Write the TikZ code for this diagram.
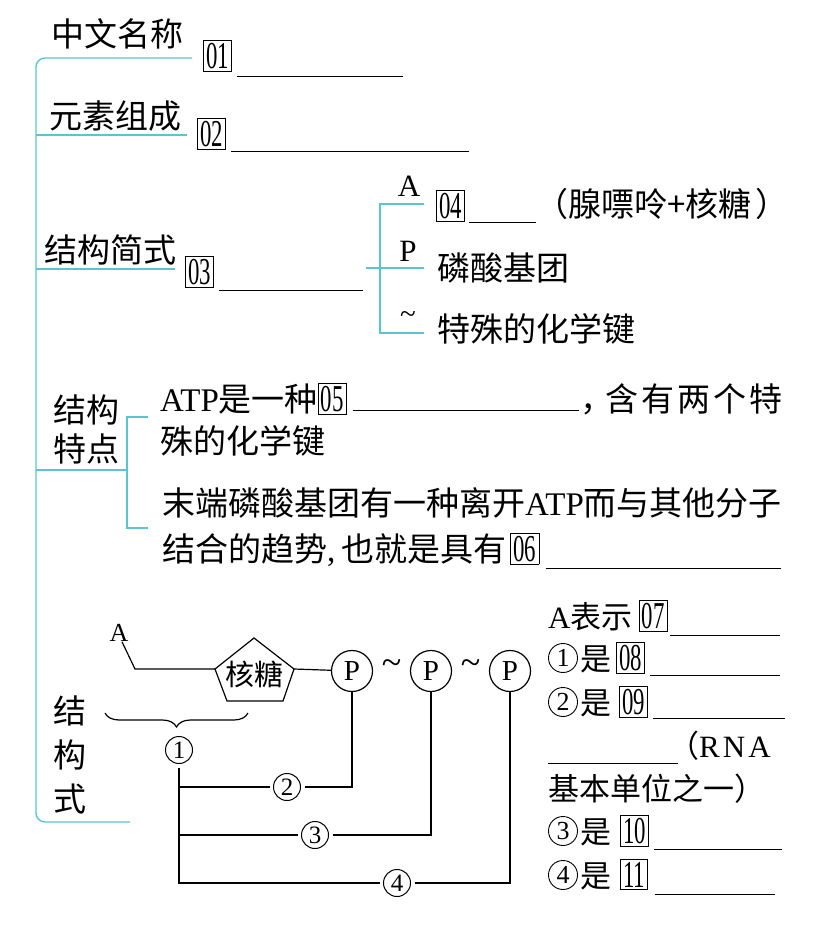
\documentclass[tikz,border=0pt]{standalone}
\usepackage{fontspec}
\setmainfont{Liberation Serif}
\newfontfamily\cjk{Noto Sans CJK SC}
\usetikzlibrary{positioning, shapes.geometric, decorations.pathreplacing, calc}

\definecolor{brcyan}{RGB}{92,196,208}

% boxed answer number
\newcommand{\nbox}[1]{{\setlength{\fboxsep}{2.2pt}\setlength{\fboxrule}{0.9pt}\fbox{\rmfamily\fontsize{38}{38}\selectfont\scalebox{0.6}[1]{#1}}}}

\begin{document}
\begin{tikzpicture}[x=1pt, y=-1pt,
        title/.style={font=\cjk\fontsize{33}{39}\selectfont, inner sep=0pt, align=center},
        body/.style={font=\cjk\fontsize{33}{40}\selectfont, inner sep=0pt, anchor=base west},
        side/.style={font=\cjk\fontsize{31}{38}\selectfont, inner sep=0pt, anchor=base west},
        latin/.style={font=\rmfamily\fontsize{29}{29}\selectfont, inner sep=0pt},
        numbox/.style={inner sep=0pt, anchor=north west},
        branch_line/.style={draw=brcyan, line width=1.4pt},
        blank_line/.style={draw, line width=1pt},
        bond_line/.style={draw, line width=1.2pt},
        phos/.style={circle, draw, line width=1.2pt, minimum size=41pt, inner sep=0pt, font=\rmfamily\fontsize{29}{29}\selectfont},
        circ_num/.style={circle, draw, line width=1pt, minimum size=27pt, inner sep=0pt, outer sep=4pt, font=\rmfamily\fontsize{25}{25}\selectfont}
    ]
        \useasboundingbox (0,0) rectangle (835,941);

        % Main spine
        \coordinate (sp_top) at (36,58);
        \coordinate (sp_bot) at (36,822);
        \draw[branch_line, rounded corners=9pt] (192,58) -- (sp_top) -- (sp_bot) -- (130,822);
        \draw[branch_line] (36,135) -- (187,135);
        \draw[branch_line] (36,269) -- (175,269);
        \draw[branch_line] (36,470) -- (127,470);

        % Name and elements
        \node[title, anchor=west] (zwmc) at (51,34) {中文名称};
        \node[numbox] (b01) at (203,40) {\nbox{01}};
        \draw[blank_line] ([shift={(5,4)}]b01.south east) -- ++(166,0);
        \node[title, anchor=west] (yszc) at (49,116) {元素组成};
        \node[numbox] (b02) at (197,118) {\nbox{02}};
        \draw[blank_line] ([shift={(5,1)}]b02.south east) -- ++(238,0);

        % Short structure
        \node[title, anchor=west] (jgjs) at (44,250) {结构简式};
        \node[numbox] (b03) at (185,256) {\nbox{03}};
        \draw[blank_line] ([shift={(5,2)}]b03.south east) -- ++(144,0);
        \draw[branch_line] (366,268) -- (424,268);
        \draw[branch_line] (424,204) -- (380,204) -- (380,333) -- (424,333);
        \node[latin, font=\rmfamily\fontsize{31}{31}\selectfont] (sA) at (409,186) {A};
        \node[latin, font=\rmfamily\fontsize{31}{31}\selectfont] (sP) at (408,251) {P};
        \node[latin] (sT) at (408,318) {\textasciitilde};
        \node[numbox] (b04) at (436,190) {\nbox{04}};
        \draw[blank_line] ([shift={(4,0)}]b04.south east) -- ++(67,0);
        \node[title, anchor=west] (xpl) at (535,204) {（腺嘌呤+核糖\kern4pt）};
        \node[title, anchor=west] (lsjt) at (437,268) {磷酸基团};
        \node[title, anchor=west] (tshxj) at (437,329) {特殊的化学键};

        % Structural features
        \node[title] (jgtd) at (86,429) {结构\\特点};
        \draw[branch_line] (148,417) -- (127,417) -- (127,528) -- (148,528);
        \node[body] (tda) at (160,411) {{\rmfamily ATP}是一种\nbox{05}};
        \draw[blank_line] ([shift={(6,-1)}]tda.base east) -- ++(226,0);
        \node[body] (tdb) at ([xshift=233pt]tda.base east) {，\kern-8pt 含\kern3pt 有\kern3pt 两\kern3pt 个\kern3pt 特};
        \node[body] (tdc) at (160,453) {殊的化学键};
        \node[body] (tdd) at (162,515) {末端磷酸基团有一种离开{\rmfamily ATP}而与其他分子};
        \node[body] (tde) at (162,561) {结合的趋势{\rmfamily ,}\hspace{6pt}也就是具有\hspace{4pt}\nbox{06}};
        \draw[blank_line] ([shift={(6,7)}]tde.base east) -- ++(235,0);

        % Structural formula
        \node[title, font=\cjk\fontsize{33}{44}\selectfont] (jgs) at (70,755) {结\\构\\式};
        \node[latin, font=\rmfamily\fontsize{26}{26}\selectfont] (atomA) at (119,633) {A};
        \coordinate (kink) at (135,669);
        \coordinate (r_t) at (254,638);
        \coordinate (r_l) at (215,669);
        \coordinate (r_r) at (294,669);
        \coordinate (r_bl) at (227,701);
        \coordinate (r_br) at (283,701);
        \draw[bond_line] (r_t) -- (r_r) -- (r_br) -- (r_bl) -- (r_l) -- cycle;
        \node[font=\cjk\fontsize{29}{29}\selectfont, inner sep=0pt] (ribose) at (254,674) {核糖};
        \foreach \i/\x in {1/352, 2/431, 3/510} {
            \node[phos] (p\i) at (\x,671) {P};
        }
        \foreach \a/\b/\k in {p1/p2/1, p2/p3/2} {
            \node[latin, font=\rmfamily\fontsize{36}{36}\selectfont] (tl\k) at ($(\a)!0.5!(\b)+(0,-4)$) {\textasciitilde};
        }
        \draw[bond_line] ([xshift=3pt]atomA.south) -- (kink) -- (r_l);
        \draw[bond_line] (r_r) -- (p1);

        % Parts of the molecule
        \draw[bond_line, decorate, decoration={brace, mirror, amplitude=14pt}] (105,713) -- (248,713);
        \node[circ_num] (n1) at (179,750) {1};
        \node[circ_num] (n2) at (287,787) {2};
        \node[circ_num] (n3) at (315,835) {3};
        \node[circ_num] (n4) at (397,883) {4};
        \draw[bond_line] (n1.south) |- (n4.west);
        \draw[bond_line] (n1.south |- n2.west) -- (n2.west);
        \draw[bond_line] (n1.south |- n3.west) -- (n3.west);
        \foreach \n/\p in {n2/p1, n3/p2, n4/p3} {
            \draw[bond_line] (\n.east) -| (\p.south);
        }

        % Answers column
        \node[side] (ra) at (548,628) {{\rmfamily A}表示\hspace{6pt}\nbox{07}};
        \draw[blank_line] ([shift={(2,7)}]ra.base east) -- ++(110,0);
        \foreach \k/\y in {1/658, 2/702, 3/831, 4/875} {
            \node[circ_num, minimum size=29pt, line width=0.9pt, font=\rmfamily\fontsize{26}{26}\selectfont] (c\k) at (563,\y) {\k};
        }
        \node[side] (rb) at (580,670) {是\hspace{5pt}\nbox{08}};
        \draw[blank_line] ([shift={(5,5)}]rb.base east) -- ++(130,0);
        \node[side] (rc) at (580,714) {是\hspace{8pt}\nbox{09}};
        \draw[blank_line] ([shift={(5,4)}]rc.base east) -- ++(132,0);
        \node[side] (rd) at (668,757) {（{\rmfamily R\kern3pt N\kern3pt A}};
        \draw[blank_line] ([shift={(-120,6)}]rd.base west) -- ++(130,0);
        \node[side] (re) at (548,800) {基本单位之一）};
        \node[side] (rf) at (580,843) {是\hspace{9pt}\nbox{10}};
        \draw[blank_line] ([shift={(5,6)}]rf.base east) -- ++(128,0);
        \node[side] (rg) at (580,887) {是\hspace{9pt}\nbox{11}};
        \draw[blank_line] ([shift={(6,7)}]rg.base east) -- ++(120,0);

    \end{tikzpicture}
\end{document}
